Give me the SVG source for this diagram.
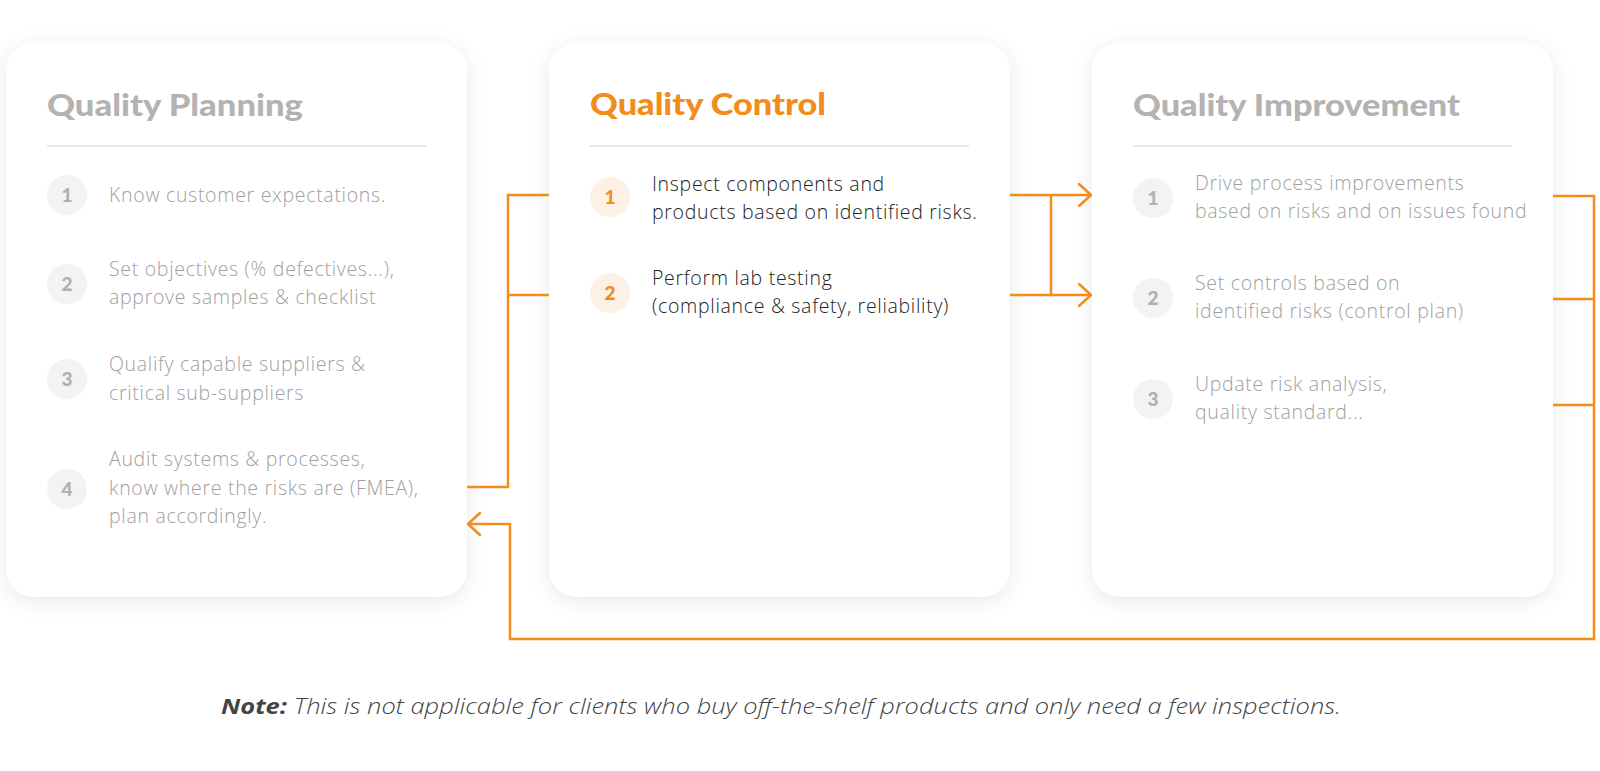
<svg xmlns="http://www.w3.org/2000/svg" width="1600" height="771" viewBox="0 0 1600 771">
<defs>
<filter id="sh" x="-20%" y="-20%" width="140%" height="140%">
<feDropShadow dx="0" dy="4" stdDeviation="10" flood-color="#000" flood-opacity="0.09"/>
</filter>
<marker id="ar" viewBox="0 0 14 24" refX="13" refY="12" markerWidth="14" markerHeight="24" markerUnits="userSpaceOnUse" orient="auto">
<path d="M1,1 L13,12 L1,23" fill="none" stroke="#f28c1a" stroke-width="2.5" stroke-linecap="round" stroke-linejoin="round"/>
</marker>
<style>
.card{fill:#fff;filter:url(#sh)}
.title{font-family:Lato,"Liberation Sans",sans-serif;font-weight:900;font-size:31px}
.tg{fill:#b3b3b3}
.to{fill:#f28c1a}
.div{stroke:#e8e8e8;stroke-width:2}
.body{font-family:"Open Sans","Liberation Sans",sans-serif;font-weight:300;font-size:19.5px;letter-spacing:0.7px}
.bg{fill:#a0a0a0}
.bd{fill:#222}
.cg{fill:#f3f3f3}
.co{fill:#fdf0e4}
.num{font-family:Lato,"Liberation Sans",sans-serif;font-weight:900;font-size:19px;text-anchor:middle}
.ng{fill:#b0b0b0}
.no{fill:#f28c1a}
.con{fill:none;stroke:#f28c1a;stroke-width:2.5}
.note{font-family:"Open Sans","Liberation Sans",sans-serif;font-style:italic;font-weight:300;font-size:22px;fill:#444}
</style>
</defs>
<rect width="1600" height="771" fill="#fff"/>

<g id="planning">
<rect class="card" x="6" y="43" width="461" height="554" rx="28"/>
<text class="title tg" x="47" y="116" textLength="256" lengthAdjust="spacingAndGlyphs">Quality Planning</text>
<line class="div" x1="47" y1="146" x2="426" y2="146"/>
<circle class="cg" cx="67" cy="195" r="20"/><text class="num ng" x="67" y="202">1</text>
<text class="body bg" x="109" y="202">Know customer expectations.</text>
<circle class="cg" cx="67" cy="284" r="20"/><text class="num ng" x="67" y="291">2</text>
<text class="body bg" x="109" y="276">Set objectives (% defectives...),</text>
<text class="body bg" x="109" y="304">approve samples &amp; checklist</text>
<circle class="cg" cx="67" cy="379" r="20"/><text class="num ng" x="67" y="386">3</text>
<text class="body bg" x="109" y="371">Qualify capable suppliers &amp;</text>
<text class="body bg" x="109" y="400">critical sub-suppliers</text>
<circle class="cg" cx="67" cy="489" r="20"/><text class="num ng" x="67" y="496">4</text>
<text class="body bg" x="109" y="466">Audit systems &amp; processes,</text>
<text class="body bg" x="109" y="495">know where the risks are (FMEA),</text>
<text class="body bg" x="109" y="523">plan accordingly.</text>
</g>

<g id="control">
<rect class="card" x="549" y="43" width="461" height="554" rx="28"/>
<text class="title to" x="590" y="115" textLength="236" lengthAdjust="spacingAndGlyphs">Quality Control</text>
<line class="div" x1="590" y1="146" x2="969" y2="146"/>
<circle class="co" cx="610" cy="197" r="20"/><text class="num no" x="610" y="204">1</text>
<text class="body bd" x="652" y="191">Inspect components and</text>
<text class="body bd" x="652" y="219">products based on identified risks.</text>
<circle class="co" cx="610" cy="293" r="20"/><text class="num no" x="610" y="300">2</text>
<text class="body bd" x="652" y="285">Perform lab testing</text>
<text class="body bd" x="652" y="313">(compliance &amp; safety, reliability)</text>
</g>

<g id="improvement">
<rect class="card" x="1092" y="43" width="461" height="554" rx="28"/>
<text class="title tg" x="1133" y="116" textLength="327" lengthAdjust="spacingAndGlyphs">Quality Improvement</text>
<line class="div" x1="1133" y1="146" x2="1512" y2="146"/>
<circle class="cg" cx="1153" cy="198" r="20"/><text class="num ng" x="1153" y="205">1</text>
<text class="body bg" x="1195" y="190">Drive process improvements</text>
<text class="body bg" x="1195" y="218">based on risks and on issues found</text>
<circle class="cg" cx="1153" cy="298" r="20"/><text class="num ng" x="1153" y="305">2</text>
<text class="body bg" x="1195" y="290">Set controls based on</text>
<text class="body bg" x="1195" y="318">identified risks (control plan)</text>
<circle class="cg" cx="1153" cy="399" r="20"/><text class="num ng" x="1153" y="406">3</text>
<text class="body bg" x="1195" y="391">Update risk analysis,</text>
<text class="body bg" x="1195" y="419">quality standard...</text>
</g>

<g id="connectors">
<path class="con" d="M549,195 H508 V487 H467 M508,295 H549"/>
<path class="con" d="M1010,195 H1091" marker-end="url(#ar)"/>
<path class="con" d="M1010,295 H1091" marker-end="url(#ar)"/>
<path class="con" d="M1051,195 V295"/>
<path class="con" d="M1553,196 H1594 V639 H510 V524 H468" marker-end="url(#ar)"/>
<path class="con" d="M1553,299 H1594 M1553,405 H1594"/>
</g>

<text class="note" x="221" y="714" textLength="1120" lengthAdjust="spacingAndGlyphs"><tspan font-weight="700">Note:</tspan> This is not applicable for clients who buy off-the-shelf products and only need a few inspections.</text>
</svg>
